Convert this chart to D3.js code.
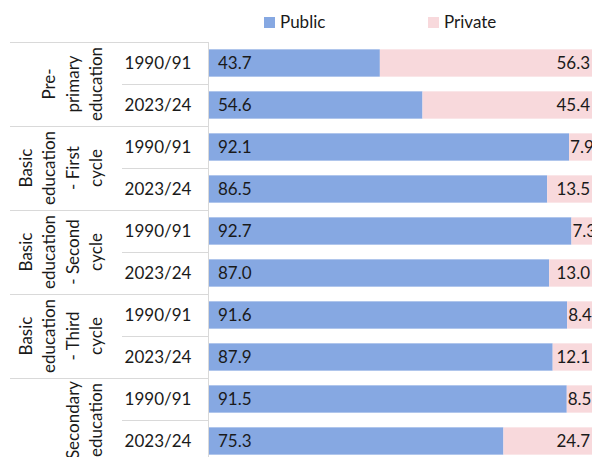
<!DOCTYPE html>
<html>
<head>
<meta charset="utf-8">
<script src="https://cdn.jsdelivr.net/npm/d3@7"></script>
<style>
  body { margin: 0; background: #fff; }
  svg { display: block; font-family: Lato, "Open Sans", sans-serif; }
</style>
</head>
<body>
<div id="chart"></div>
<script>
// chart data
const categories = [
  ["Pre-", "primary", "education"],
  ["Basic", "education", "- First", "cycle"],
  ["Basic", "education", "- Second", "cycle"],
  ["Basic", "education", "- Third", "cycle"],
  ["Secondary", "education"]
];
const years = ["1990/91", "2023/24"];
const publicShare = [43.7, 54.6, 92.1, 86.5, 92.7, 87.0, 91.6, 87.9, 91.5, 75.3];
const privateShare = [56.3, 45.4, 7.9, 13.5, 7.3, 13.0, 8.4, 12.1, 8.5, 24.7];
const seriesNames = ["Public", "Private"];

const width = 592;
const height = 457;
const colors = ["#86a8e2", "#f8d9dc"];
const gridColor = "#d9d9d9";
const textColor = "#1a1a1a";

// one row per category/year pair
const rows = [];
categories.forEach((c, ci) => {
  years.forEach((y, yi) => {
    const i = ci * years.length + yi;
    rows.push({ id: i, cat: ci, year: y, pub: publicShare[i], priv: privateShare[i] });
  });
});

const svg = d3.select("#chart").append("svg")
  .attr("width", width)
  .attr("height", height);

const plotTop = 42;
const axisX = 208;
const plotBottom = plotTop + rows.length * 42;

const x = d3.scaleLinear().domain([0, 100]).range([axisX + 1, 600]);
const y = d3.scaleBand().domain(rows.map(d => d.id)).range([plotTop, plotBottom])
  .paddingInner(0.35).paddingOuter(0.175);
const yCat = d3.scaleBand().domain(categories.map((c, i) => i)).range([plotTop, plotBottom]);
const yRow = d3.scaleBand().domain(rows.map(d => d.id)).range([plotTop, plotBottom]);

// grid lines of the label table
svg.append("g")
  .selectAll("line")
  .data(d3.range(categories.length + 1))
  .join("line")
  .attr("x1", 10).attr("x2", axisX)
  .attr("y1", d => plotTop + d * yCat.bandwidth() + 0.5)
  .attr("y2", d => plotTop + d * yCat.bandwidth() + 0.5)
  .attr("stroke", gridColor);

svg.append("g")
  .selectAll("line")
  .data(rows.filter(d => d.id % 2 === 1))
  .join("line")
  .attr("x1", 122).attr("x2", axisX)
  .attr("y1", d => yRow(d.id) + 0.5)
  .attr("y2", d => yRow(d.id) + 0.5)
  .attr("stroke", gridColor);

svg.append("line")
  .attr("x1", axisX + 0.5).attr("x2", axisX + 0.5)
  .attr("y1", plotTop).attr("y2", height)
  .attr("stroke", gridColor);

// bars
const bars = svg.append("g");
bars.selectAll(".pub")
  .data(rows)
  .join("rect")
  .attr("class", "pub")
  .attr("x", x(0))
  .attr("y", d => y(d.id))
  .attr("width", d => x(d.pub) - x(0))
  .attr("height", y.bandwidth())
  .attr("fill", colors[0]);

bars.selectAll(".priv")
  .data(rows)
  .join("rect")
  .attr("class", "priv")
  .attr("x", d => x(d.pub))
  .attr("y", d => y(d.id))
  .attr("width", d => x(d.pub + d.priv) - x(d.pub))
  .attr("height", y.bandwidth())
  .attr("fill", colors[1]);

// value labels
const labels = svg.append("g").attr("font-size", 17).attr("fill", textColor);
labels.selectAll(".pubLabel")
  .data(rows)
  .join("text")
  .attr("class", "pubLabel")
  .attr("x", x(0) + 9)
  .attr("y", d => y(d.id) + y.bandwidth() / 2)
  .attr("dy", "0.36em")
  .text(d => d.pub.toFixed(1));

labels.selectAll(".privLabel")
  .data(rows)
  .join("text")
  .attr("class", "privLabel")
  .attr("y", d => y(d.id) + y.bandwidth() / 2)
  .attr("dy", "0.36em")
  .text(d => d.priv.toFixed(1))
  .each(function (d) {
    const t = d3.select(this);
    const w = this.getComputedTextLength();
    const end = x(100) - 10;
    const start = x(d.pub) + 1;
    if (end - w < start) t.attr("x", start).attr("text-anchor", "start");
    else t.attr("x", end).attr("text-anchor", "end");
  });

// year labels
svg.append("g").attr("font-size", 17).attr("fill", textColor)
  .selectAll("text")
  .data(rows)
  .join("text")
  .attr("x", 158)
  .attr("y", d => yRow(d.id) + yRow.bandwidth() / 2)
  .attr("dy", "0.36em")
  .attr("text-anchor", "middle")
  .text(d => d.year);

// category labels, rotated, lines stacked toward the year column
const catG = svg.append("g").attr("font-size", 17).attr("fill", textColor);
categories.forEach((lines, ci) => {
  const cy = yCat(ci) + yCat.bandwidth() / 2;
  lines.forEach((ln, li) => {
    const cx = 96 - (lines.length - 1 - li) * 23.5;
    catG.append("text")
      .attr("transform", `translate(${cx},${cy}) rotate(-90)`)
      .attr("text-anchor", "middle")
      .attr("dy", "0.36em")
      .text(ln);
  });
});

// legend
const legendX = [264, 428];
const legend = svg.append("g").attr("font-size", 17).attr("fill", textColor);
seriesNames.forEach((name, i) => {
  legend.append("rect")
    .attr("x", legendX[i]).attr("y", 17)
    .attr("width", 11).attr("height", 11)
    .attr("fill", colors[i]);
  legend.append("text")
    .attr("x", legendX[i] + 16).attr("y", 28)
    .text(name);
});
</script>
</body>
</html>
